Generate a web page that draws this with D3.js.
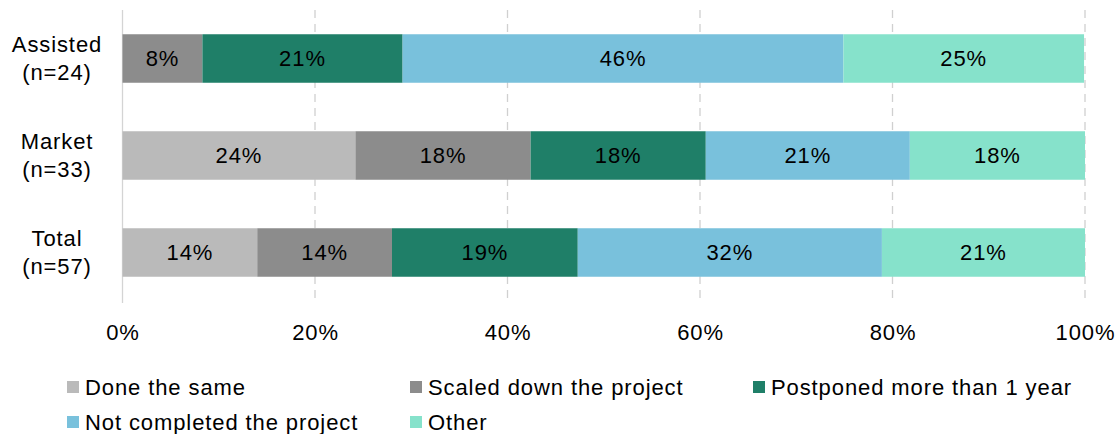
<!DOCTYPE html>
<html><head><meta charset="utf-8">
<script src="https://cdn.jsdelivr.net/npm/d3@7"></script>
<style>body{margin:0;background:#fff}svg{display:block;font-family:"Liberation Sans",Arial,sans-serif}text{letter-spacing:0.9px}</style>
</head><body>
<svg id="c" width="1117" height="434"></svg>
<script>
const categories = ["Assisted|(n=24)", "Market|(n=33)", "Total|(n=57)"];
const seriesNames = ["Done the same", "Scaled down the project", "Postponed more than 1 year", "Not completed the project", "Other"];
const seriesColors = ["#BABABA", "#8C8C8C", "#1F7F68", "#79C1DC", "#86E2CB"];
const doneSame     = [0,    24.2, 14.0];
const scaledDown   = [8.3,  18.2, 14.0];
const postponed    = [20.8, 18.2, 19.3];
const notCompleted = [45.8, 21.2, 31.6];
const other        = [25.0, 18.2, 21.1];
const tickValues = [0, 20, 40, 60, 80, 100];

const FS = 22;
const seriesValues = [doneSame, scaledDown, postponed, notCompleted, other];
const rows = categories.map((c, i) => {
  const r = {cat: c};
  seriesNames.forEach((s, j) => r[s] = seriesValues[j][i]);
  return r;
});
const stack = d3.stack().keys(seriesNames)(rows);

const svg = d3.select("#c");
const x = d3.scaleLinear().domain([0, 100]).range([122.5, 1085]);
const y = d3.scaleBand().domain(categories).range([10, 301]).paddingInner(0.5).paddingOuter(0.25);

// gridlines
svg.append("g").selectAll("line").data(tickValues.filter(t => t > 0)).join("line")
  .attr("x1", d => x(d)).attr("x2", d => x(d)).attr("y1", 10).attr("y2", 303)
  .attr("stroke", "#D0D0D0").attr("stroke-width", 1.3).attr("stroke-dasharray", "8,6");
svg.append("line").attr("x1", x(0)).attr("x2", x(0)).attr("y1", 10).attr("y2", 303)
  .attr("stroke", "#D4D4D4").attr("stroke-width", 1.3);

// bars
const g = svg.append("g");
stack.forEach((layer, j) => {
  g.append("g").selectAll("rect").data(layer).join("rect")
    .attr("x", d => x(d[0])).attr("width", d => x(d[1]) - x(d[0]))
    .attr("y", d => y(d.data.cat)).attr("height", y.bandwidth())
    .attr("fill", seriesColors[j]);
  g.append("g").selectAll("text").data(layer.filter(d => d[1] - d[0] > 0)).join("text")
    .attr("x", d => (x(d[0]) + x(d[1])) / 2)
    .attr("y", d => y(d.data.cat) + y.bandwidth() / 2)
    .attr("dy", "0.35em").attr("text-anchor", "middle")
    .attr("font-size", FS).attr("fill", "#000")
    .text(d => Math.round(d[1] - d[0]) + "%");
});

// y labels
const yl = svg.append("g").selectAll("text").data(categories).join("text")
  .attr("text-anchor", "middle").attr("font-size", FS).attr("fill", "#000");
yl.each(function(d) {
  const parts = d.split("|");
  const cy = y(d) + y.bandwidth() / 2;
  d3.select(this).selectAll("tspan").data(parts).join("tspan")
    .attr("x", 57).attr("y", (p, i) => cy - 14 + i * 28).attr("dy", "0.35em").text(p => p);
});

// x axis labels
const xAxis = d3.axisBottom(x).tickValues(tickValues).tickFormat(d => d + "%").tickSize(0).tickPadding(0);
const ax = svg.append("g").attr("transform", "translate(0,332)").call(xAxis);
ax.select(".domain").remove();
ax.selectAll("text").attr("font-size", FS).attr("fill", "#000").attr("dy", "0.35em")
  .attr("font-family", '"Liberation Sans",Arial,sans-serif');

// legend
const legPos = [[67, 387], [410, 387], [753, 387], [67, 422], [410, 422]];
const lg = svg.append("g").selectAll("g").data(seriesNames).join("g")
  .attr("transform", (d, i) => `translate(${legPos[i][0]},${legPos[i][1]})`);
lg.append("rect").attr("x", 0).attr("y", -6).attr("width", 12).attr("height", 12)
  .attr("fill", (d, i) => seriesColors[i]);
lg.append("text").attr("x", 18).attr("dy", "0.35em").attr("font-size", FS).attr("fill", "#000").text(d => d);
</script>
</body></html>
